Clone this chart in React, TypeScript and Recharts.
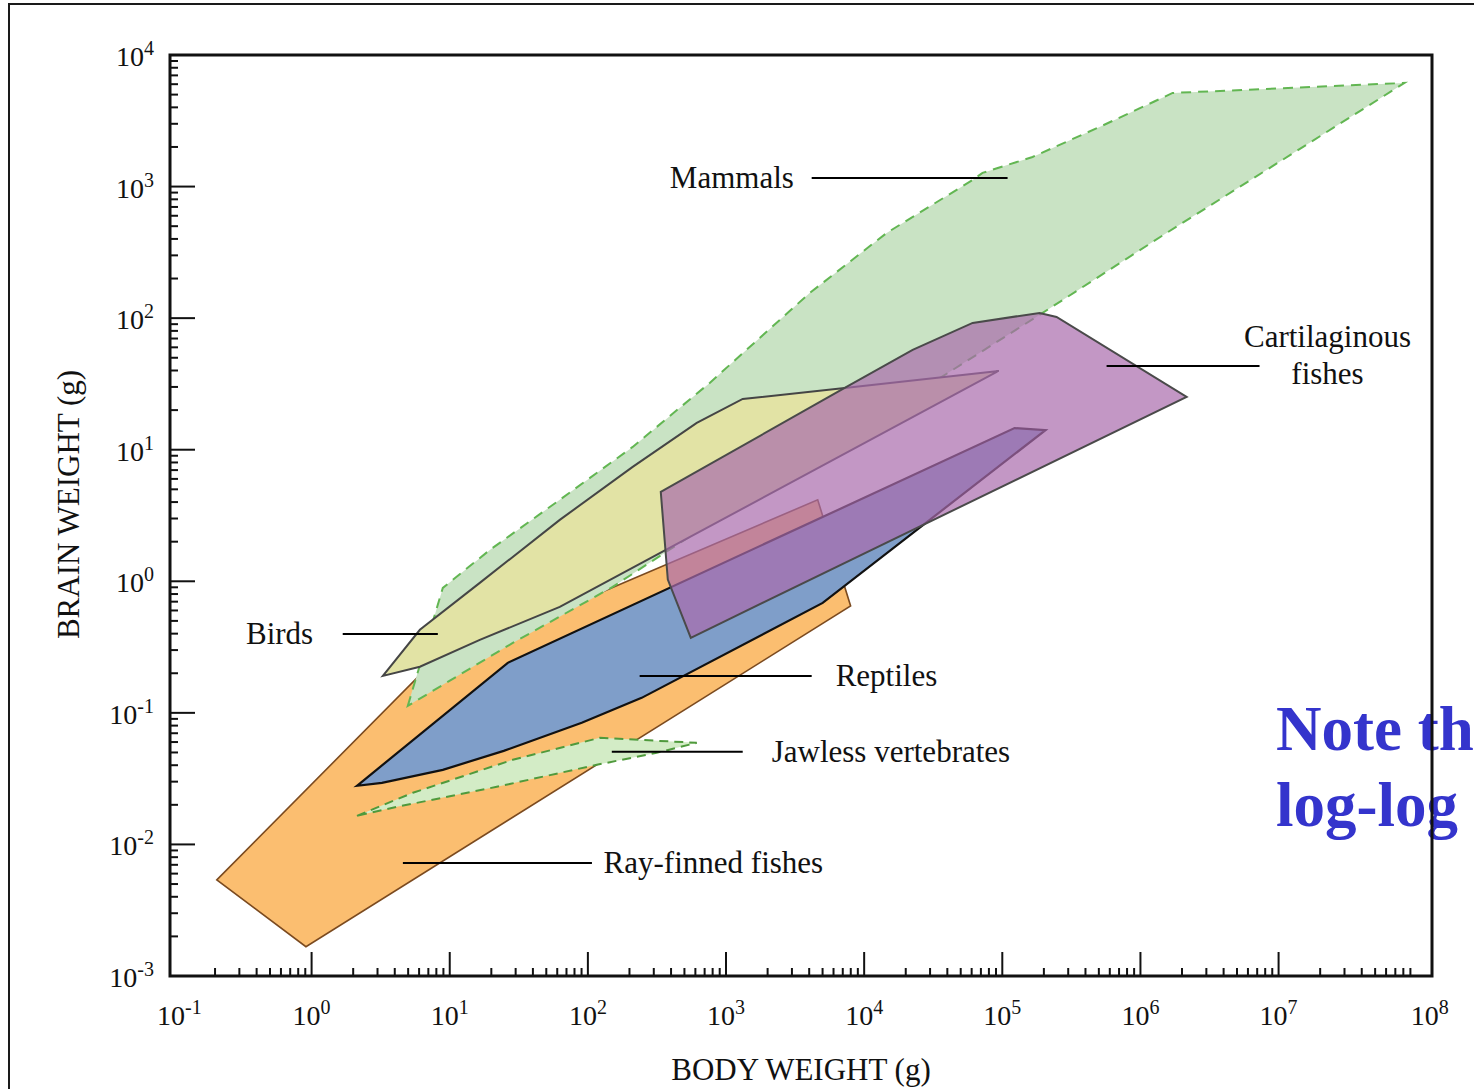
import React from "react";
import { ScatterChart, Scatter, XAxis, YAxis, ReferenceArea } from "recharts";

const FONT = "'Liberation Serif', 'Times New Roman', serif";

// axis ranges (log10 scale)
const X_MIN = 0.0944;
const X_MAX = 1.29e8;
const Y_MIN = 0.001;
const Y_MAX = 10000;

const X_DECADES = [-1, 0, 1, 2, 3, 4, 5, 6, 7, 8];
const Y_DECADES = [-3, -2, -1, 0, 1, 2, 3, 4];
const MINOR_STEPS = [2, 3, 4, 5, 6, 7, 8, 9];
const X_BARE = [-1, 8]; // labelled, but no tick mark
const X_LABEL_NUDGE: Record<number, number> = { [-1]: 6, 8: 13 };

// polygons: [body weight g, brain weight g]
const rayFinnedFishes = [
  [0.206, 0.00538], [7.06, 0.227], [4610, 4.16], [7980, 0.65], [0.91, 0.00167],
];
const mammals = [
  [4.97, 0.113], [8.91, 0.891], [19.5, 1.73], [62.6, 4.16], [211, 10.5], [762, 32.2],
  [4030, 155], [14550, 444], [61000, 1122], [71900, 1270], [165600, 1679], [506000, 2838],
  [1.71e6, 5146], [8.15e7, 6130], [1.545e6, 444], [195800, 109.6], [440, 1.89], [151, 0.906],
  [28.6, 0.34],
];
const jawlessVertebrates = [
  [2.13, 0.0165], [5.41, 0.0247], [28.6, 0.044], [122, 0.0646], [614, 0.0592],
  [315, 0.0497], [116, 0.0403], [21.9, 0.0274], [4.14, 0.0193],
];
const reptiles = [
  [2.13, 0.0279], [26.3, 0.24], [122700, 14.6], [205600, 14.1], [5010, 0.685],
  [245, 0.13], [90.3, 0.084], [24.6, 0.0514], [8.91, 0.0369], [3.23, 0.0294],
];
const birds = [
  [3.28, 0.191], [6.08, 0.428], [16.5, 0.972], [62.6, 2.93], [211, 7.4], [614, 16.0],
  [1321, 24.3], [7230, 29.5], [94000, 39.7], [62.6, 0.638], [16.5, 0.359], [6.08, 0.224],
];
const cartilaginousFishes = [
  [337, 4.78], [7230, 29.5], [22440, 57.3], [61000, 92], [186200, 109.6], [247000, 102],
  [2.16e6, 25.2], [556, 0.372], [379, 1.03],
];

// leader lines: [x1, x2, y]
const LEADERS = [
  [4170, 109200, 1161],
  [568700, 7.28e6, 43.3],
  [1.68, 8.2, 0.398],
  [237, 4170, 0.191],
  [149, 1321, 0.0506],
  [4.58, 107, 0.00724],
];

const LABELS = [
  { text: "Mammals", x: 392, y: 1161, anchor: "start" },
  { text: "Cartilaginous", x: 2.26e7, y: 72.0, anchor: "middle" },
  { text: "fishes", x: 2.26e7, y: 37.7, anchor: "middle" },
  { text: "Birds", x: 0.335, y: 0.398, anchor: "start" },
  { text: "Reptiles", x: 6220, y: 0.191, anchor: "start" },
  { text: "Jawless vertebrates", x: 2142, y: 0.0506, anchor: "start" },
  { text: "Ray-finned fishes", x: 130, y: 0.00724, anchor: "start" },
];

const toPoints = (arr: number[][]) => arr.map(([x, y]) => ({ x, y }));

const xTicks = X_DECADES.flatMap((e) => [10 ** e, ...(e < 8 ? MINOR_STEPS.map((m) => m * 10 ** e) : [])]);
const yTicks = Y_DECADES.flatMap((e) => [10 ** e, ...(e < 4 ? MINOR_STEPS.map((m) => m * 10 ** e) : [])]);

function decade(v: number) {
  const lg = Math.log10(v);
  const exp = Math.round(lg);
  return { exp, major: Math.abs(lg - exp) < 1e-6 };
}

function XTick({ x, y, payload }: any) {
  const { exp, major } = decade(payload.value);
  const bare = major && X_BARE.includes(exp);
  return (
    <g>
      {!bare && <line x1={x} x2={x} y1={y} y2={y - (major ? 24 : 8)} stroke="#111" strokeWidth={2} />}
      {major && (
        <text x={x + (X_LABEL_NUDGE[exp] ?? 0)} y={y + 49} textAnchor="middle" fontSize={28} fontFamily={FONT} fill="#111">
          10<tspan dy={-11} fontSize={20}>{exp}</tspan>
        </text>
      )}
    </g>
  );
}

function YTick({ x, y, payload }: any) {
  const { exp, major } = decade(payload.value);
  return (
    <g>
      <line x1={x} x2={x + (major ? 25 : 8)} y1={y} y2={y} stroke="#111" strokeWidth={2} />
      {major && (
        <text x={x - 16} y={y + 11} textAnchor="end" fontSize={28} fontFamily={FONT} fill="#111">
          10<tspan dy={-11} fontSize={20}>{exp}</tspan>
        </text>
      )}
    </g>
  );
}

const noDot = () => <g />;

const polygon = (style: React.SVGProps<SVGPathElement>, closed = true) => (props: any) => {
  const pts = (props.points || []) as { x: number; y: number }[];
  if (!pts.length) return <g />;
  const d = pts.map((p, i) => `${i ? "L" : "M"}${p.x},${p.y}`).join(" ") + (closed ? " Z" : "");
  return <path d={d} {...style} />;
};

const LEADER_STYLE = { fill: "none", stroke: "#000", strokeWidth: 2 };

const SHAPES = [
  { key: "ray", data: rayFinnedFishes, style: { fill: "#fbbe70", stroke: "#7b4a1f", strokeWidth: 1.6 } },
  { key: "mam", data: mammals, style: { fill: "#c9e3c4", stroke: "#62b652", strokeWidth: 2, strokeDasharray: "10 7" } },
  { key: "jaw", data: jawlessVertebrates, style: { fill: "#d3ecc6", stroke: "#4f9a3c", strokeWidth: 2, strokeDasharray: "9 6" } },
  { key: "rep", data: reptiles, style: { fill: "#7f9ec9", stroke: "#111", strokeWidth: 2.2 } },
  { key: "bird", data: birds, style: { fill: "#e2e3a5", stroke: "#454545", strokeWidth: 2 } },
  { key: "cart", data: cartilaginousFishes, style: { fill: "rgb(170,107,172)", fillOpacity: 0.7, stroke: "#4a4a4a", strokeWidth: 2 } },
];

export default function App() {
  return (
    <div style={{ position: "fixed", left: 0, top: 0, width: 1474, height: 1089, overflow: "hidden", background: "#fff" }}>
      <div style={{ position: "absolute", left: 8, top: 3, width: 1500, height: 1200, border: "2px solid #1a1a1a" }} />
      <div
        style={{
          position: "absolute", left: 1276, top: 691, fontFamily: FONT, fontWeight: "bold",
          fontSize: 63, lineHeight: "76px", color: "#3434cc", whiteSpace: "nowrap",
        }}
      >
        Note the
        <br />
        log-log
      </div>
      <div style={{ position: "absolute", left: 0, top: 0 }}>
        <ScatterChart width={1474} height={1089} margin={{ top: 55, right: 42, bottom: 53, left: 70 }}>
          <XAxis
            type="number"
            dataKey="x"
            scale="log"
            domain={[X_MIN, X_MAX]}
            allowDataOverflow
            ticks={xTicks}
            interval={0}
            height={60}
            axisLine={false}
            tickLine={false}
            tickSize={0}
            tickMargin={0}
            tick={(p: any) => <XTick {...p} />}
            label={{
              content: ({ viewBox }: any) => (
                <text x={viewBox.x + viewBox.width / 2} y={viewBox.y + 104} textAnchor="middle" fontSize={31} fontFamily={FONT} fill="#111">
                  BODY WEIGHT (g)
                </text>
              ),
            }}
          />
          <YAxis
            type="number"
            dataKey="y"
            scale="log"
            domain={[Y_MIN, Y_MAX]}
            allowDataOverflow
            ticks={yTicks}
            interval={0}
            width={100}
            axisLine={false}
            tickLine={false}
            tickSize={0}
            tickMargin={0}
            tick={(p: any) => <YTick {...p} />}
            label={{
              content: ({ viewBox }: any) => {
                const bx = viewBox.x + 9;
                const cy = viewBox.y + viewBox.height / 2 - 11;
                return (
                  <text x={bx} y={cy} transform={`rotate(-90 ${bx} ${cy})`} textAnchor="middle" fontSize={31} fontFamily={FONT} fill="#111">
                    BRAIN WEIGHT (g)
                  </text>
                );
              },
            }}
          />
          <ReferenceArea x1={X_MIN} x2={X_MAX} y1={Y_MIN} y2={Y_MAX} fill="none" stroke="#111" strokeWidth={3} ifOverflow="visible" />
          {SHAPES.map((s) => (
            <Scatter
              key={s.key}
              data={toPoints(s.data)}
              shape={noDot}
              line={polygon(s.style)}
              lineType="joint"
              legendType="none"
              isAnimationActive={false}
            />
          ))}
          {LEADERS.map(([x1, x2, y], i) => (
            <Scatter
              key={`leader-${i}`}
              data={[{ x: x1, y }, { x: x2, y }]}
              shape={noDot}
              line={polygon(LEADER_STYLE, false)}
              lineType="joint"
              legendType="none"
              isAnimationActive={false}
            />
          ))}
          <Scatter
            data={LABELS}
            legendType="none"
            isAnimationActive={false}
            shape={(p: any) => (
              <text x={p.cx} y={p.cy} dy={10} textAnchor={p.payload.anchor} fontSize={31} fontFamily={FONT} fill="#111">
                {p.payload.text}
              </text>
            )}
          />
        </ScatterChart>
      </div>
    </div>
  );
}
